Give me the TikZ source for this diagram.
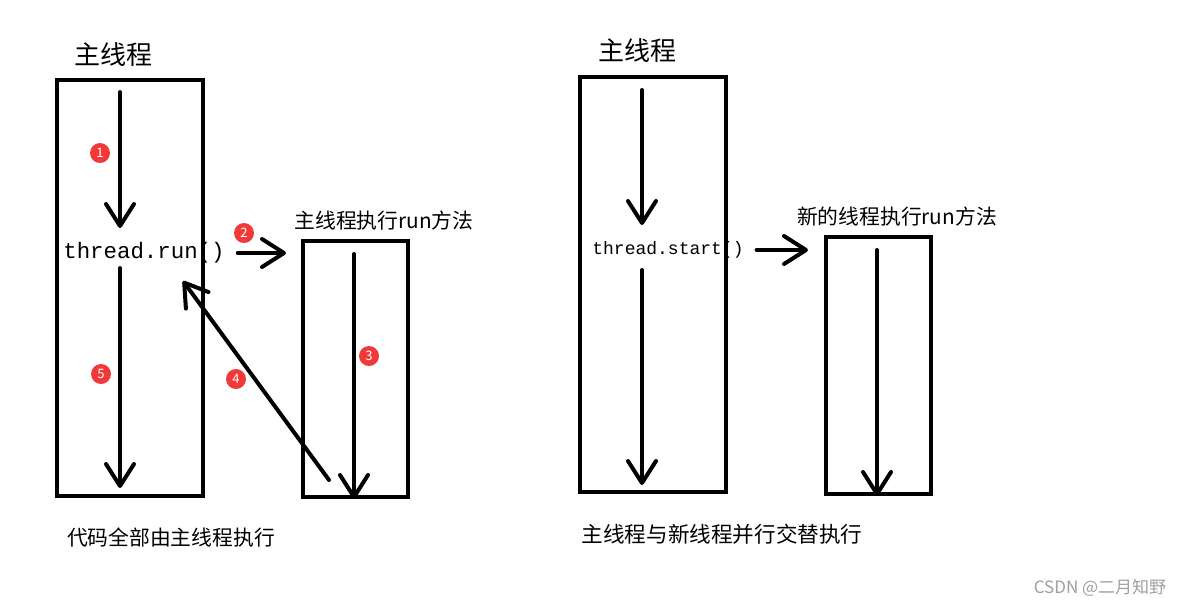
\documentclass[tikz,border=0pt]{standalone}
\usepackage{fontspec}
\setmainfont{Noto Sans CJK SC}
\newfontfamily\codefont{Liberation Mono}
\usetikzlibrary{arrows.meta}
\definecolor{badgered}{RGB}{240,58,58}
\definecolor{markgray}{RGB}{160,160,160}

\begin{document}
\begin{tikzpicture}[x=0.5pt,y=-0.5pt,
    box/.style={draw, line width=2pt, inner sep=0pt},
    flow/.style={line width=2pt, line cap=round, -{Straight Barb[length=11pt,width=14pt,round]}},
    badge/.style={circle, fill=badgered, text=white, inner sep=0pt, minimum size=10pt, font=\fontsize{6.5}{6.5}\selectfont},
    title/.style={font=\fontsize{13}{13}\selectfont},
    lbl/.style={font=\fontsize{10.4}{12}\selectfont}]
    \useasboundingbox (0,0) rectangle (1184,607);

    \node[title] (titleL) at (114,55) {主线程};
    \node[box, minimum width=73pt, minimum height=208pt] (mainL) at (130,288) {};
    \node[box, minimum width=52.5pt, minimum height=128pt] (subL) at (355.5,369) {};
    \node[font=\codefont\fontsize{11.2}{12}\selectfont] (run) at (144,253) {thread.run()};
    \node[lbl] (subLtxt) at (384,221) {主线程执行run方法};
    \node[lbl] (noteL) at (171,537) {代码全部由主线程执行};

    \coordinate (l1) at (120,92);
    \coordinate (l2) at (120,268);
    \coordinate (l3) at (354,254);
    \coordinate (back) at (329,480);
    \coordinate (backend) at (183,281);
    \draw[flow] (l1) -- (120,228);
    \draw[flow] (l2) -- (l2 |- 0,488);
    \draw[flow] ([xshift=3pt]run.east) -- ([xshift=-7.5pt]run.east -| subL.west);
    \draw[flow] (l3) -- (l3 |- subL.south);
    \draw[flow] (back) -- (backend);

    \node[badge] (b1) at (100,153) {1};
    \node[badge] (b2) at (244,233) {2};
    \node[badge] (b3) at (369,356) {3};
    \node[badge] (b4) at (236,379) {4};
    \node[badge] (b5) at (101,374) {5};

    \node[title] (titleR) at (637,51) {主线程};
    \node[box, minimum width=73pt, minimum height=207.5pt] (mainR) at (653,284.5) {};
    \node[box, minimum width=52.5pt, minimum height=128.5pt] (subR) at (878.5,365.5) {};
    \node[font=\codefont\fontsize{9}{10}\selectfont] (start) at (668,250) {thread.start()};
    \node[lbl] (subRtxt) at (897,217) {新的线程执行run方法};
    \node[font=\fontsize{10.8}{12}\selectfont] (noteR) at (722,534) {主线程与新线程并行交替执行};

    \coordinate (r1) at (642,90);
    \coordinate (r2) at (642,270);
    \coordinate (r3) at (877,250);
    \draw[flow] (r1) -- (642,225);
    \draw[flow] (r2) -- (642,485);
    \draw[flow] ([xshift=3pt]start.east) -- ([xshift=-8pt]start.east -| subR.west);
    \draw[flow] (r3) -- (r3 |- subR.south);

    \node[text=markgray, font=\fontsize{8.5}{9}\selectfont] (mark) at (1100,588) {CSDN @二月知野};
\end{tikzpicture}
\end{document}
